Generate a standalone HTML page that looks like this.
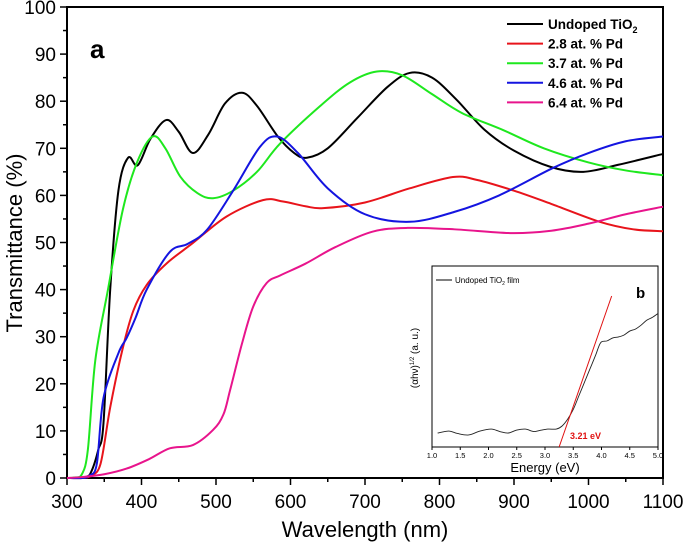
<!DOCTYPE html>
<html><head><meta charset="utf-8"><style>
body{margin:0;background:#fff}
svg{display:block;font-family:"Liberation Sans",Arial,sans-serif}
</style></head><body>
<svg id="c" width="685" height="551" viewBox="0 0 685 551"></svg>
<script>
const wl = {
 black:[300,325,333,342,349,358,369,382,395,412,433,450,469,490,512,535,555,583,605,622,650,690,730,760,790,823,860,900,950,993,1040,1100],
 red:[300,320,332,345,358,374,389,407,434,469,514,563,590,620,644,700,760,818,850,900,950,1015,1060,1100],
 green:[300,310,320,328,338,355,375,394,415,432,452,475,496,523,555,586,640,680,716,750,790,830,885,940,1000,1050,1100],
 blue:[300,320,330,340,349,369,380,392,407,438,462,488,523,559,582,610,650,700,760,820,880,952,1000,1050,1100],
 pink:[300,320,350,380,410,438,469,496,510,519,535,550,568,586,620,660,710,757,820,895,950,1000,1050,1100]
};
const undopedT = [0,0.2,1.5,6,11.7,40,61,68,66.4,72,76,73.5,69,73,79.5,81.8,79,72.5,69,68,70,76.5,83,86,85,80.3,74,69.5,66,65,66.5,68.8];
const pd28T = [0,0,0.5,3,15,27,35.5,41,45.6,49.9,55.5,59,58.7,57.7,57.3,58.5,61.5,63.9,63.3,61,58.2,54.4,52.8,52.4];
const pd37T = [0,0.1,0.8,6,25,40,57,67,72.5,70,64,60.5,59.4,61,65,71,79,84,86.3,85.5,81.5,77.5,73.9,70,67,65.3,64.3];
const pd46T = [0,0,0.5,3,17,26.5,29.7,34,40,48,49.7,52.7,61,70.3,72.5,69,61.5,56,54.4,56.5,60,65.8,69,71.5,72.5];
const pd64T = [0,0.2,0.8,2,4,6.3,7,10.2,13.5,18.7,28.6,36.4,41.4,43,45.5,49,52.3,53.1,52.8,52,52.5,54,56,57.6];
const xTicks = [300,400,500,600,700,800,900,1000,1100];
const yTicks = [0,10,20,30,40,50,60,70,80,90,100];
const legendLabels = ["Undoped TiO","2.8 at. % Pd","3.7 at. % Pd","4.6 at. % Pd","6.4 at. % Pd"];
const insetE = [1.1,1.3,1.45,1.65,1.85,2.05,2.2,2.35,2.5,2.65,2.8,2.9,3.05,3.2,3.3,3.4,3.5,3.6,3.7,3.8,3.9,3.95,4.0,4.1,4.2,4.3,4.4,4.5,4.6,4.7,4.8,4.9,5.0];
const insetY = [0,2,-0.5,-2,2,4,1.5,0,3,4,1.5,2.5,4,4,7,14,24,38,52,66,80,88,93,94,97,98,100,104,106,110,115,118,122];
const insetXTicks = [1.0,1.5,2.0,2.5,3.0,3.5,4.0,4.5,5.0];

const NS="http://www.w3.org/2000/svg", svg=document.getElementById('c');
function el(t,a,p){const e=document.createElementNS(NS,t);for(const k in a)e.setAttribute(k,a[k]);(p||svg).appendChild(e);return e;}
const X0=67,X1=663,Y0=478,Y1=7;
const sx=v=>X0+(v-300)/800*(X1-X0), sy=v=>Y0-v/100*(Y0-Y1);
function smooth(pts){let d=`M${pts[0][0]},${pts[0][1]}`;for(let i=0;i<pts.length-1;i++){const p0=pts[Math.max(0,i-1)],p1=pts[i],p2=pts[i+1],p3=pts[Math.min(pts.length-1,i+2)];d+=` C${p1[0]+(p2[0]-p0[0])/6},${p1[1]+(p2[1]-p0[1])/6} ${p2[0]-(p3[0]-p1[0])/6},${p2[1]-(p3[1]-p1[1])/6} ${p2[0]},${p2[1]}`;}return d;}

let fr=el('rect',{x:X0,y:Y1,width:X1-X0,height:Y0-Y1,fill:'none',stroke:'#000','stroke-width':2});

xTicks.forEach((v,i)=>{
 el('line',{x1:sx(v),x2:sx(v),y1:Y0,y2:Y0+7,stroke:'#000','stroke-width':1.5});
 if(i<xTicks.length-1)el('line',{x1:sx(v+50),x2:sx(v+50),y1:Y0,y2:Y0+4,stroke:'#000','stroke-width':1.5});
 const t=el('text',{x:sx(v),y:Y0+30,'text-anchor':'middle','font-size':19});t.textContent=v;
 
});
yTicks.forEach((v,i)=>{
 el('line',{x1:X0-7,x2:X0,y1:sy(v),y2:sy(v),stroke:'#000','stroke-width':1.5});
 if(i<yTicks.length-1)el('line',{x1:X0-4,x2:X0,y1:sy(v+5),y2:sy(v+5),stroke:'#000','stroke-width':1.5});
 const t=el('text',{x:X0-11,y:sy(v)+7,'text-anchor':'end','font-size':19});t.textContent=v;
 
});
let t=el('text',{x:365,y:537,'text-anchor':'middle','font-size':22});t.textContent='Wavelength (nm)';

t=el('text',{x:0,y:0,'text-anchor':'middle','font-size':22,transform:'translate(22,243) rotate(-90)'});t.textContent='Transmittance (%)';

t=el('text',{x:90,y:58,'font-size':26,'font-weight':'bold'});t.textContent='a';


const series=[['black',undopedT,'#000'],['red',pd28T,'#e8141b'],['green',pd37T,'#1ee81e'],['blue',pd46T,'#1414e0'],['pink',pd64T,'#e8148c']];
series.forEach(([k,vals,col],i)=>{
 const p=el('path',{d:smooth(wl[k].map((w,j)=>[sx(w),sy(vals[j])])),fill:'none',stroke:col,'stroke-width':2});
 
 const ly=24+i*19.6;
 const g=el('g',{});
 el('line',{x1:507,x2:543,y1:ly,y2:ly,stroke:col,'stroke-width':2},g);
 const tx=el('text',{x:548,y:ly+5,'font-size':13.5,'font-weight':'bold'},g);tx.textContent=legendLabels[i];
 if(i===0){const s=el('tspan',{'font-size':9,dy:4},tx);s.textContent='2';}
});

const IX0=432,IX1=658,IY0=447,IY1=266;
const ix=v=>IX0+(v-1)/4*(IX1-IX0), iy=v=>433-v*0.98;
const ig=el('g',{});
el('rect',{x:IX0,y:IY1,width:IX1-IX0,height:IY0-IY1,fill:'#fff',stroke:'#000','stroke-width':1},ig);
insetXTicks.forEach(v=>{el('line',{x1:ix(v),x2:ix(v),y1:IY0,y2:IY0+3,stroke:'#000'},ig);
 const tt=el('text',{x:ix(v),y:IY0+11,'text-anchor':'middle','font-size':7.5},ig);tt.textContent=v.toFixed(1);});
t=el('text',{x:545,y:472,'text-anchor':'middle','font-size':13},ig);t.textContent='Energy (eV)';
t=el('text',{x:0,y:0,'text-anchor':'middle','font-size':10,transform:'translate(418,358) rotate(-90)'},ig);t.textContent='(αhν)';
const sp=el('tspan',{'font-size':6,dy:-4},t);sp.textContent='1/2';const sp2=el('tspan',{dy:4},t);sp2.textContent=' (a. u.)';
el('path',{d:smooth(insetE.map((e,j)=>[ix(e),iy(insetY[j])])),fill:'none',stroke:'#222','stroke-width':0.9},ig);
el('line',{x1:ix(3.25),y1:IY0,x2:ix(4.18),y2:296,stroke:'#e01010','stroke-width':1},ig);
el('line',{x1:436,x2:452,y1:280,y2:280,stroke:'#000'},ig);
t=el('text',{x:455,y:283,'font-size':8},ig);t.textContent='Undoped TiO';const s3=el('tspan',{'font-size':5,dy:2},t);s3.textContent='2';const s4=el('tspan',{dy:-2},t);s4.textContent=' film';
t=el('text',{x:636,y:298,'font-size':15,'font-weight':'bold'},ig);t.textContent='b';
t=el('text',{x:570,y:439,'font-size':9,'font-weight':'bold',fill:'#e01010'},ig);t.textContent='3.21 eV';
</script>
</body></html>
